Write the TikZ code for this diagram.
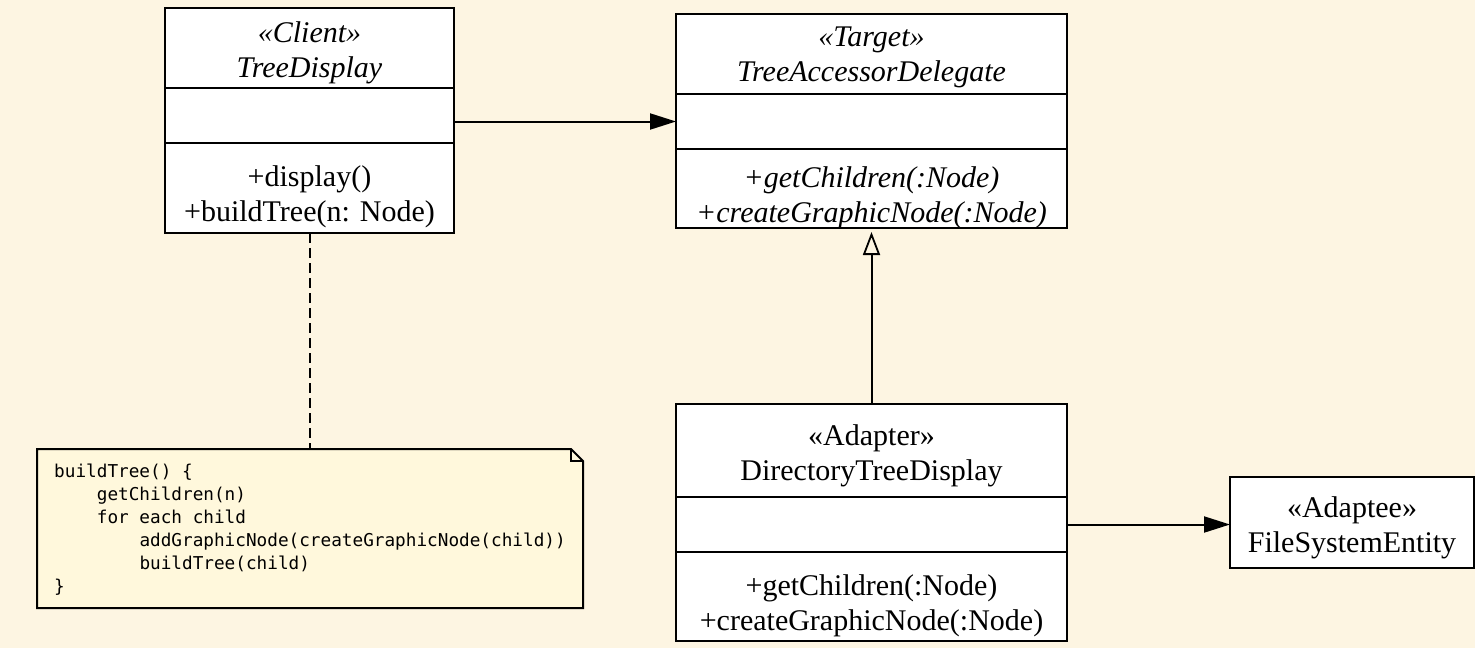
\documentclass[tikz,border=0pt]{standalone}
\usepackage{fontspec}
\setmainfont{Liberation Serif}
\newfontfamily\codefont{DejaVu Sans Mono}
\usetikzlibrary{arrows.meta}
\definecolor{bgcol}{RGB}{253,245,226}
\definecolor{notecol}{RGB}{255,248,220}
\newcommand\ii{\phantom{xxxx}}
\begin{document}
\begin{tikzpicture}[x=1pt,y=-1pt,
  comp/.style={draw=black, fill=white, line width=2pt, inner sep=0pt, outer sep=0pt},
  txt/.style={inner sep=0pt, align=center, font=\fontsize{30}{35}\selectfont},
  hdr/.style={txt, yshift=-5pt},
  mth/.style={txt, yshift=-9pt},
  conn/.style={line width=2pt, draw=black},
  filledhead/.style={-{Triangle[length=26pt,width=16pt]}},
  openhead/.style={-{Triangle[open,length=23pt,width=17pt,line width=1.8pt]}}
]
\useasboundingbox[fill=bgcol] (0,0) rectangle (1475,648);

% Client
\node[comp, minimum width=289pt, minimum height=80pt, label={[hdr]center:{\itshape «Client»\\\itshape TreeDisplay}}] (ch) at (309.5,48) {};
\node[comp, minimum width=289pt, minimum height=55pt] (ca) at (309.5,115.5) {};
\node[comp, minimum width=289pt, minimum height=90pt, label={[mth]center:{+display()\\+buildTree(n: Node)}}] (cm) at (309.5,188) {};

% Target
\node[comp, minimum width=391pt, minimum height=80pt, label={[hdr, yshift=2pt]center:{\itshape «Target»\\\itshape TreeAccessorDelegate}}] (th) at (871.5,54) {};
\node[comp, minimum width=391pt, minimum height=55pt] (ta) at (871.5,121.5) {};
\node[comp, minimum width=391pt, minimum height=79pt, label={[mth]center:{\itshape +getChildren(:Node)\\\itshape +createGraphicNode(:Node)}}] (tm) at (871.5,188.5) {};

% Adapter
\node[comp, minimum width=391pt, minimum height=93pt, label={[hdr]center:{«Adapter»\\DirectoryTreeDisplay}}] (ah) at (871.5,450.5) {};
\node[comp, minimum width=391pt, minimum height=55pt] (aa) at (871.5,524.5) {};
\node[comp, minimum width=391pt, minimum height=89pt, label={[mth]center:{+getChildren(:Node)\\+createGraphicNode(:Node)}}] (am) at (871.5,596.5) {};

% Adaptee
\node[comp, minimum width=244pt, minimum height=91pt, label={[hdr]center:{«Adaptee»\\FileSystemEntity}}] (ad) at (1352,522.5) {};

% Note
\coordinate (nnw) at (37,449);
\coordinate (nse) at (583,608);
\coordinate (fold1) at (571,449);
\coordinate (fold2) at (583,461);
\draw[line width=2pt, fill=notecol] (nnw) -- (fold1) -- (fold2) -- (nse) -- (nnw |- nse) -- cycle;
\draw[line width=2pt] (fold1) -- (fold1 |- fold2) -- (fold2);
\node[inner sep=0pt, outer sep=0pt, minimum width=546pt, minimum height=159pt, align=left,
  font=\codefont\fontsize{17.7}{23}\selectfont] (note) at (310,529.5)
  {buildTree() \{\\
\ii getChildren(n)\\
\ii for each child\\
\ii\ii addGraphicNode(createGraphicNode(child))\\
\ii\ii buildTree(child)\\
\}};

% Connectors
\draw[conn, filledhead] (ca.east |- ta.west) -- (ta.west);
\draw[conn, openhead, shorten >=4pt] (ah.north) -- (tm.south);
\draw[conn, filledhead] (aa.east) -- (aa.east -| ad.west);
\draw[conn, dash pattern=on 10pt off 5pt] (cm.south) -- (cm.south |- nnw);
\end{tikzpicture}
\end{document}
